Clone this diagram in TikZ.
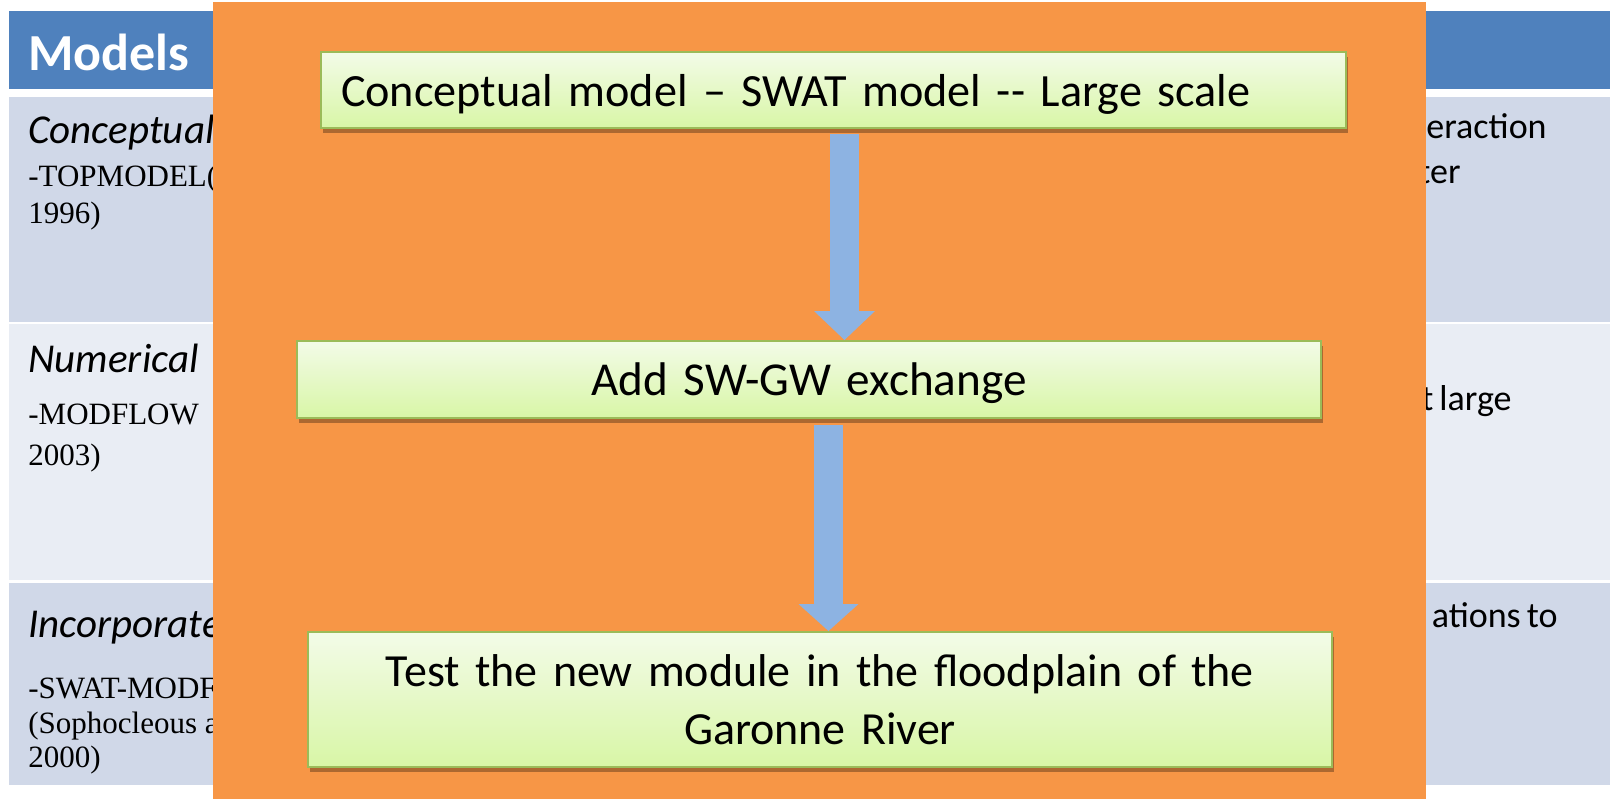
\documentclass[tikz,border=0pt]{standalone}
\usepackage{fontspec}
\setmainfont{Carlito}[WordSpace=0.75]
\newfontfamily\tms{Liberation Serif}
\usetikzlibrary{shadows,arrows.meta}
\definecolor{orng}{HTML}{F79646}
\definecolor{hdrblue}{HTML}{4F81BD}
\definecolor{rowdark}{HTML}{D0D8E8}
\definecolor{rowlight}{HTML}{E9EDF4}
\definecolor{arrblue}{HTML}{8DB3E2}
\definecolor{bxline}{HTML}{9BBB59}
\definecolor{bxtop}{HTML}{F3FBE8}
\definecolor{bxbot}{HTML}{D8F6A6}
\begin{document}
\begin{tikzpicture}[x=0.5pt,y=-0.5pt,
  txt/.style={inner sep=0pt, anchor=base west},
  txtr/.style={inner sep=0pt, anchor=base east},
  itl/.style={font=\fontsize{20.5}{24}\selectfont\itshape},
  tim/.style={font=\tms\fontsize{15.5}{18}\selectfont},
  rgt/.style={font=\fontsize{18}{22}\selectfont},
  flowbox/.style={draw=bxline, line width=1pt, top color=bxtop, bottom color=bxbot,
    drop shadow={shadow xshift=1pt, shadow yshift=-2.5pt, opacity=0.3, fill=black},
    inner xsep=10pt, inner ysep=0pt},
  flowarrow/.style={draw=arrblue, line width=14.5pt}
]
\useasboundingbox (0,0) rectangle (1612,799);
\fill[white] (0,0) rectangle (1612,799);
% table
\fill[hdrblue] (9,11) rectangle (1610,89);
\fill[rowdark] (9,97) rectangle (1610,322);
\fill[rowlight] (9,324) rectangle (1610,580);
\fill[rowdark] (9,583) rectangle (1610,785);
\node[txt, text=white, font=\fontsize{26}{30}\selectfont\bfseries] (hdr) at (28,70) {Models};
\node[txt, itl] (c1) at (28,143) {Conceptual};
\node[txt, tim] (c1a) at (28,186) {-TOPMODEL(};
\node[txt, tim] (c1b) at (28,223) {1996)};
\node[txt, itl] (c2) at (28,372) {Numerical};
\node[txt, tim] (c2a) at (28,424) {-MODFLOW};
\node[txt, tim] (c2b) at (28,465) {2003)};
\node[txt, itl] (c3) at (28,637) {Incorporate};
\node[txt, tim] (c3a) at (28,698) {-SWAT-MODF};
\node[txt, tim] (c3b) at (28,733) {(Sophocleous a};
\node[txt, tim] (c3c) at (28,767) {2000)};
\node[txtr, rgt] (r1) at (1547,138) {eraction};
\node[txtr, rgt] (r1b) at (1461,183) {ter};
\node[txtr, rgt] (r2) at (1512,410) {t large};
\node[txtr, rgt] (r3) at (1558,627) {ations to};
% orange panel
\fill[orng] (213,2) rectangle (1426,799);
% flow boxes
\node[flowbox, minimum width=512.5pt, minimum height=38pt, text width=492.5pt, align=left,
  text depth=0pt, font=\fontsize{23.1}{29}\selectfont] (b1) at (833.5,90) {Conceptual model -- SWAT model -{}- Large scale};
\node[flowbox, minimum width=512pt, minimum height=38.5pt, text width=492pt, align=center,
  text depth=0pt, font=\fontsize{23.6}{28}\selectfont] (b2) at (809,379.5) {Add SW-GW exchange};
\node[flowbox, minimum width=512.25pt, minimum height=67.5pt, text width=492pt, align=center,
  font=\fontsize{23}{29}\selectfont] (b3) at (820,699.5) {Test the new module in the floodplain of the\\Garonne River};
% arrows
\coordinate (ax1) at (844.5,0);
\coordinate (ax2) at (828.5,0);
\draw[flowarrow, shorten <=2.5pt, -{Triangle[length=14.5pt, width=30.5pt, line width=0pt]}]
  (b1.south -| ax1) -- (b2.north -| ax1);
\draw[flowarrow, shorten <=3pt, -{Triangle[length=13.5pt, width=30pt, line width=0pt]}]
  (b2.south -| ax2) -- (b3.north -| ax2);
\end{tikzpicture}
\end{document}
